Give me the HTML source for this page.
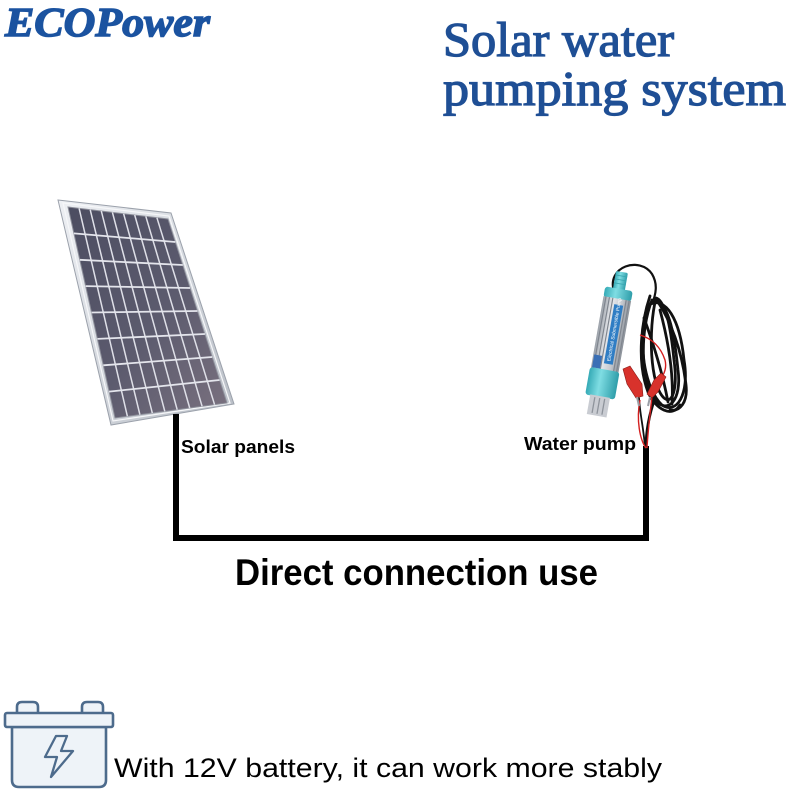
<!DOCTYPE html>
<html>
<head>
<meta charset="utf-8">
<style>
  html,body{margin:0;padding:0;background:#fff;}
  body{width:800px;height:800px;overflow:hidden;}
  svg{display:block;}
</style>
</head>
<body>
<svg width="800" height="800" viewBox="0 0 800 800" xmlns="http://www.w3.org/2000/svg">
  <defs>
    <linearGradient id="frame" x1="0" y1="0" x2="1" y2="1">
      <stop offset="0" stop-color="#eef0f4"/>
      <stop offset="0.5" stop-color="#d4d8de"/>
      <stop offset="1" stop-color="#b9bec6"/>
    </linearGradient>
    <linearGradient id="cells" x1="0" y1="0" x2="1" y2="1">
      <stop offset="0" stop-color="#4c4d61"/>
      <stop offset="0.55" stop-color="#5c5b6e"/>
      <stop offset="1" stop-color="#7a717f"/>
    </linearGradient>
    <linearGradient id="silver" x1="0" y1="0" x2="1" y2="0">
      <stop offset="0" stop-color="#9aa0a8"/>
      <stop offset="0.35" stop-color="#e6e8ec"/>
      <stop offset="0.7" stop-color="#c4c8ce"/>
      <stop offset="1" stop-color="#8c929a"/>
    </linearGradient>
    <linearGradient id="teal" x1="0" y1="0" x2="1" y2="0">
      <stop offset="0" stop-color="#35aab6"/>
      <stop offset="0.4" stop-color="#7fdde3"/>
      <stop offset="1" stop-color="#2f9eaa"/>
    </linearGradient>
  </defs>

  <!-- Titles -->
  <text x="5" y="36" font-family="Liberation Serif, serif" font-weight="bold" font-style="italic" font-size="41" fill="#1b53a0" stroke="#1b53a0" stroke-width="1.4" textLength="205" lengthAdjust="spacingAndGlyphs">ECOPower</text>
  <text x="443" y="56" font-family="Liberation Serif, serif" font-size="49" fill="#1f4f95" stroke="#1f4f95" stroke-width="1.3" textLength="231" lengthAdjust="spacingAndGlyphs">Solar water</text>
  <text x="443" y="105" font-family="Liberation Serif, serif" font-size="49" fill="#1f4f95" stroke="#1f4f95" stroke-width="1.3" textLength="343" lengthAdjust="spacingAndGlyphs">pumping system</text>

  <!-- Solar panel -->
  <polygon points="58,200 171,213 234,404 111,425" fill="url(#frame)" stroke="#9ba1ab" stroke-width="1"/>
  <polygon points="63,203 169,216 230,403 113,421" fill="none" stroke="#f6f7f9" stroke-width="1.2"/>
  <polygon points="68,207 168,219 227,403 115,418" fill="url(#cells)" stroke="#8d8f9a" stroke-width="1"/>
  <g stroke="#dfe0e8" stroke-width="1.5">
    <line x1="79.1" y1="208.3" x2="127.4" y2="416.3"/>
    <line x1="90.2" y1="209.7" x2="139.9" y2="414.7"/>
    <line x1="101.3" y1="211" x2="152.3" y2="413"/>
    <line x1="112.4" y1="212.3" x2="164.8" y2="411.3"/>
    <line x1="123.6" y1="213.7" x2="177.2" y2="409.7"/>
    <line x1="134.7" y1="215" x2="189.7" y2="408"/>
    <line x1="145.8" y1="216.3" x2="202.1" y2="406.3"/>
    <line x1="156.9" y1="217.7" x2="214.6" y2="404.7"/>
  </g>
  <g stroke="#e4e5ec" stroke-width="1.8">
    <line x1="73.9" y1="233.4" x2="175.4" y2="242"/>
    <line x1="79.8" y1="259.8" x2="182.8" y2="265"/>
    <line x1="85.6" y1="286.1" x2="190.1" y2="288"/>
    <line x1="91.5" y1="312.5" x2="197.5" y2="311"/>
    <line x1="97.4" y1="338.9" x2="204.9" y2="334"/>
    <line x1="103.3" y1="365.3" x2="212.3" y2="357"/>
    <line x1="109.1" y1="391.6" x2="219.6" y2="380"/>
  </g>

  <!-- Wiring -->
  <rect x="173" y="414" width="6" height="127" fill="#000"/>
  <rect x="173" y="535" width="476" height="6" fill="#000"/>
  <rect x="643" y="446" width="6" height="95" fill="#000"/>

  <!-- Pump cables (behind pump) -->
  <g fill="none" stroke="#111" stroke-width="2.8" stroke-linecap="round">
    <path d="M614,292 C606,266 640,256 652,274 C658,284 656,294 652,304" stroke-width="2.2"/>
    <path d="M652,300 C640,330 640,380 655,400 C668,415 682,400 678,370 C674,330 668,300 652,300"/>
    <path d="M648,305 C636,340 645,390 662,405 C676,415 690,395 684,360 C680,320 666,295 648,305"/>
    <path d="M656,298 C648,330 650,385 664,398 C672,405 678,390 674,360 C670,320 664,300 656,298"/>
    <path d="M650,296 C642,320 636,360 648,392 C656,410 672,418 680,405"/>
    <path d="M658,302 C670,320 682,350 686,385 C688,402 680,412 670,410"/>
    <path d="M644,318 C652,340 662,370 668,402"/>
    <path d="M660,310 C668,340 674,372 672,404"/>
    <path d="M655,398 C650,412 646,430 646,448"/>
    <path d="M639,398 C640,415 644,430 645,448" stroke-width="1.8"/>
  </g>
  <g fill="none" stroke="#d41f1f" stroke-width="1.4">
    <path d="M640,335 C650,338 660,345 665,360 C668,372 660,380 655,385"/>
    <path d="M652,396 C650,415 648,430 647,448"/>
    <path d="M640,400 C636,420 640,440 646,448"/>
  </g>
  <!-- clips -->
  <polygon points="623,369 630,366 642,384 643,396 636,398 627,384" fill="#d8322c" stroke="#8a1a16" stroke-width="0.6"/>
  <polygon points="661,373 666,377 658,392 652,398 647,394 654,380" fill="#d8322c" stroke="#8a1a16" stroke-width="0.6"/>
  <line x1="637" y1="397" x2="639" y2="406" stroke="#9a9ea6" stroke-width="2"/>
  <line x1="650" y1="397" x2="648" y2="406" stroke="#9a9ea6" stroke-width="2"/>

  <!-- Pump -->
  <g transform="translate(622,272) rotate(10)">
    <rect x="-6" y="0" width="12" height="20" rx="1.5" fill="url(#teal)"/>
    <g stroke="#3aa7b1" stroke-width="0.9">
      <line x1="-6" y1="4" x2="6" y2="4"/>
      <line x1="-6" y1="8" x2="6" y2="8"/>
      <line x1="-6" y1="12" x2="6" y2="12"/>
    </g>
    <rect x="-14" y="17" width="28" height="11" rx="3" fill="url(#teal)"/>
    <rect x="-14" y="27" width="28" height="74" fill="url(#silver)"/>
    <g stroke="#80868f" stroke-width="1.2">
      <line x1="-11.5" y1="27" x2="-11.5" y2="101"/>
      <line x1="-8" y1="27" x2="-8" y2="101"/>
      <line x1="-4.5" y1="27" x2="-4.5" y2="101"/>
      <line x1="9" y1="27" x2="9" y2="101"/>
      <line x1="12" y1="27" x2="12" y2="101"/>
    </g>
    <rect x="-2" y="33" width="9" height="60" fill="#2f7dc4"/>
    <text x="0" y="0" transform="translate(4,90) rotate(-90)" font-family="Liberation Sans, sans-serif" font-size="5" fill="#fff">Electrical Submersible Pump</text>
    <rect x="-13" y="86" width="8" height="13" fill="#3a6fb5"/>
    <rect x="-15" y="99" width="30" height="28" rx="3" fill="url(#teal)"/>
    <rect x="-10" y="126" width="20" height="20" fill="#c9ccd2"/>
    <g stroke="#8e939b" stroke-width="1.3">
      <line x1="-5" y1="128" x2="-5" y2="144"/>
      <line x1="0" y1="128" x2="0" y2="144"/>
      <line x1="5" y1="128" x2="5" y2="144"/>
    </g>
  </g>

  <!-- Labels -->
  <text x="181" y="453" font-family="Liberation Sans, sans-serif" font-weight="bold" font-size="18" fill="#000" textLength="114" lengthAdjust="spacingAndGlyphs">Solar panels</text>
  <text x="524" y="450" font-family="Liberation Sans, sans-serif" font-weight="bold" font-size="18" fill="#000" textLength="112" lengthAdjust="spacingAndGlyphs">Water pump</text>
  <text x="235" y="585" font-family="Liberation Sans, sans-serif" font-weight="bold" font-size="37" fill="#000" textLength="363" lengthAdjust="spacingAndGlyphs">Direct connection use</text>

  <!-- Battery icon -->
  <g fill="#eef3f8" stroke="#4d6b8c" stroke-width="2.6" stroke-linejoin="round">
    <path d="M17,713 V707 Q17,702 22,702 H33 Q38,702 38,707 V713"/>
    <path d="M82,713 V707 Q82,702 87,702 H98 Q103,702 103,707 V713"/>
    <path d="M12,727 V780 Q12,787 19,787 H99 Q106,787 106,780 V727 Z"/>
    <rect x="5" y="713" width="108" height="14" rx="2"/>
    <polygon points="56,736 45,757 57,757 51,777 73,751 61,751 67,736" fill="none" stroke-width="2.3"/>
  </g>
  <text x="114" y="777" font-family="Liberation Sans, sans-serif" font-size="27" fill="#000" textLength="548" lengthAdjust="spacingAndGlyphs">With 12V battery, it can work more stably</text>
</svg>
</body>
</html>
